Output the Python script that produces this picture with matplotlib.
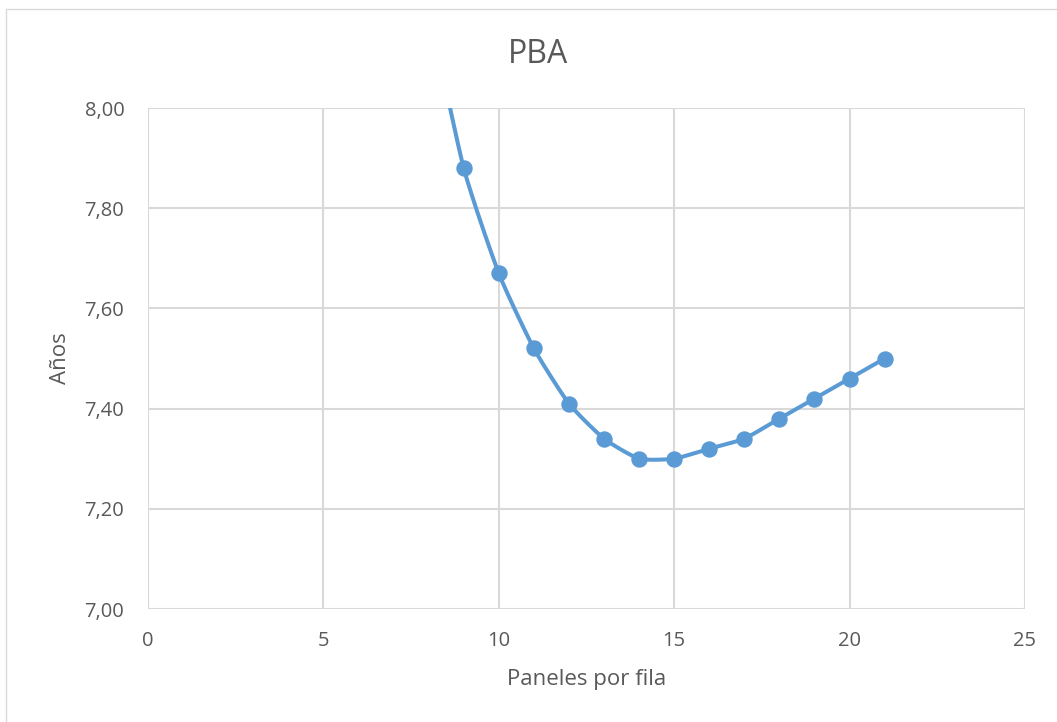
import numpy as np
import matplotlib
matplotlib.use("Agg")
import matplotlib.pyplot as plt
from matplotlib.patches import Rectangle

# Years for each number of panels per row
paneles = [8, 9, 10, 11, 12, 13, 14, 15, 16, 17, 18, 19, 20, 21]
anos = [8.20, 7.88, 7.67, 7.52, 7.41, 7.34, 7.30, 7.30, 7.32, 7.34, 7.38, 7.42, 7.46, 7.50]

x_ticks = [0, 5, 10, 15, 20, 25]
y_ticks = [7.00, 7.20, 7.40, 7.60, 7.80, 8.00]

plt.rcParams['font.family'] = ['Open Sans', 'DejaVu Sans']
TEXT = '#595959'
GRID = '#d9d9d9'
LINE = '#5b9bd5'


def smooth(xs, ys, tension=0.55, n=30):
    """Cardinal (Hermite) curve through the points."""
    xs = np.asarray(xs, float)
    ys = np.asarray(ys, float)
    pts = np.column_stack([xs, ys])
    ext = np.vstack([2 * pts[0] - pts[1], pts, 2 * pts[-1] - pts[-2]])
    t = np.linspace(0, 1, n)[:, None]
    h00 = 2 * t ** 3 - 3 * t ** 2 + 1
    h10 = t ** 3 - 2 * t ** 2 + t
    h01 = -2 * t ** 3 + 3 * t ** 2
    h11 = t ** 3 - t ** 2
    segs = []
    for i in range(1, len(ext) - 2):
        p1, p2 = ext[i], ext[i + 1]
        m1 = tension * (ext[i + 1] - ext[i - 1]) / 2
        m2 = tension * (ext[i + 2] - ext[i]) / 2
        segs.append(h00 * p1 + h10 * m1 + h01 * p2 + h11 * m2)
    curve = np.vstack(segs)
    return curve[:, 0], curve[:, 1]


fig = plt.figure(figsize=(10.57, 7.22), dpi=100)
fig.patches.append(Rectangle((0.006, -0.01), 1.1, 0.998, transform=fig.transFigure,
                             fill=False, edgecolor=GRID, linewidth=1.0))

ax = fig.add_axes([0.140, 0.1565, 0.8297, 0.6939])
ax.set_xlim(0, 25)
ax.set_ylim(7.0, 8.0)
ax.set_xticks(x_ticks)
ax.set_yticks(y_ticks)
ax.set_xticklabels([str(v) for v in x_ticks])
ax.set_yticklabels([f"{v:.2f}".replace('.', ',') for v in y_ticks])
ax.grid(True, color=GRID, linewidth=1.5)
ax.set_axisbelow(True)
for s in ax.spines.values():
    s.set_visible(False)
ax.tick_params(length=0, labelsize=14.5, colors=TEXT)
ax.tick_params(axis='y', pad=17)
ax.tick_params(axis='x', pad=16)

sx, sy = smooth(paneles, anos)
ax.plot(sx, sy, color=LINE, linewidth=2.9, solid_capstyle='round', zorder=3)
ax.plot(paneles, anos, linestyle='none', marker='o', markersize=10.8,
        color=LINE, zorder=4, clip_on=True)

ax.set_xlabel('Paneles por fila', fontsize=16, color=TEXT, labelpad=13)
ax.set_ylabel('Años', fontsize=16, color=TEXT, labelpad=10)
fig.text(0.509, 0.924, 'PBA', ha='center', va='center', fontsize=23, color=TEXT)

fig.savefig('out.png', dpi=100)
